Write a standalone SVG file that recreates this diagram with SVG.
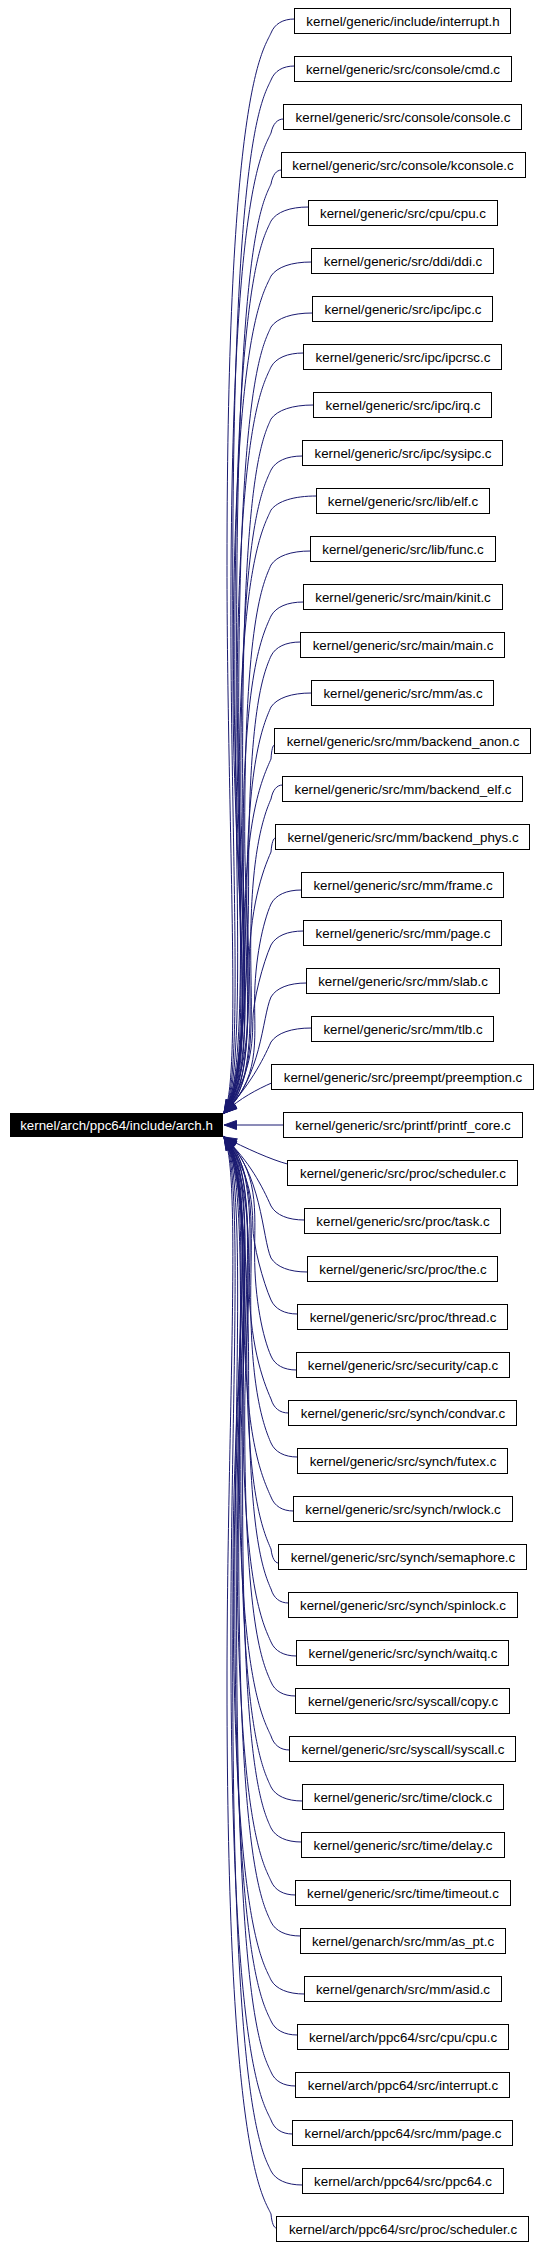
<svg xmlns="http://www.w3.org/2000/svg" width="540" height="2247" viewBox="0 0 540 2247">
<style>
.n rect{fill:#fff;stroke:#000;stroke-width:1}
.n text,.m text{font-family:"Liberation Sans",Arial,Helvetica,sans-serif;font-size:13.33px;text-anchor:middle;fill:#000}
.m rect{fill:#000;stroke:#000}
.m text{fill:#fff}
.e path{fill:none;stroke:#191970;stroke-width:1;marker-end:url(#arr)}
</style>
<defs>
<marker id="arr" markerUnits="userSpaceOnUse" markerWidth="15" markerHeight="11" refX="13.5" refY="5.5" orient="auto" viewBox="0 0 15 11">
<path d="M1,1 L13.5,5.5 L1,10 z" fill="#191970" stroke="#191970" stroke-width="1"/>
</marker>
</defs>
<rect width="540" height="2247" fill="#fff"/>
<g id="connectors" class="e">
<path d="M294.5,19 C282.8,19 274.5,24 271,33 C263,51 227,89 227,565.5 C227,822.8 242,1080 224,1113"/>
<path d="M294.5,66 C282.8,66 274.5,71 271,80 C263,98 232.7,136 232.7,589 C232.7,834.5 256,1080 224,1113"/>
<path d="M283.5,119 C277.3,119 272.9,124 271,133 C263,151 230.9,189 230.9,615.5 C230.9,847.8 244,1080 224,1113"/>
<path d="M281.5,170 C276.3,170 272.6,175 271,184 C263,202 236.6,240 236.6,641 C236.6,860.5 258,1080 224,1113"/>
<path d="M308.5,207 C289.8,207 276.6,212 271,221 C263,239 234.8,277 234.8,659.5 C234.8,869.8 246,1080 224,1113"/>
<path d="M311.5,262 C291.3,262 277.1,267 271,276 C263,294 233,332 233,687 C233,883.5 260,1080 224,1113"/>
<path d="M312.5,313 C291.8,313 277.2,318 271,327 C263,345 238.7,383 238.7,712.5 C238.7,896.3 248,1080 224,1113"/>
<path d="M303.5,353 C287.3,353 275.9,358 271,367 C263,385 236.9,423 236.9,732.5 C236.9,906.3 262,1080 224,1113"/>
<path d="M313.5,405 C292.3,405 277.4,410 271,419 C263,437 242.6,475 242.6,758.5 C242.6,919.3 250,1080 224,1113"/>
<path d="M302.5,456 C286.8,456 275.7,461 271,470 C263,488 240.8,526 240.8,784 C240.8,932 264,1080 224,1113"/>
<path d="M316.5,496 C293.8,496 277.8,501 271,510 C263,528 239,566 239,804 C239,942 252,1080 224,1113"/>
<path d="M310.5,551 C290.8,551 276.9,556 271,565 C263,583 244.7,621 244.7,831.5 C244.7,955.8 266,1080 224,1113"/>
<path d="M303.5,602 C287.3,602 275.9,607 271,616 C263,634 242.9,672 242.9,857 C242.9,968.5 254,1080 224,1113"/>
<path d="M300.5,642 C285.8,642 275.4,647 271,656 C263,674 248.6,712 248.6,877 C248.6,978.5 242,1080 224,1113"/>
<path d="M311.5,693 C291.3,693 277.1,698 271,707 C263,725 246.8,763 246.8,902.5 C246.8,991.3 256,1080 224,1113"/>
<path d="M274.5,745 C272.8,745 271.5,750 271,759 C263,777 245,815 245,928.5 C245,1004.3 244,1080 224,1113"/>
<path d="M282.5,785 C276.8,785 272.7,790 271,799 C263,817 250.7,855 250.7,948.5 C250.7,1014.3 258,1080 224,1113"/>
<path d="M275.5,838 C273.3,838 271.7,843 271,852 C263,870 248.9,908 248.9,975 C248.9,1027.5 246,1080 224,1113"/>
<path d="M301.5,890 C286.3,890 275.6,895 271,904 C263,922 254.6,960 254.6,1001 C254.6,1040.5 260,1080 224,1113"/>
<path d="M303.5,931 C287.3,931 275.9,936 271,945 C263,963 252.8,1001 252.8,1021.5 C252.8,1050.8 248,1080 224,1113"/>
<path d="M306.5,983 C288.8,983 276.3,988 271,997 C262,1017 262,1078 224,1113"/>
<path d="M311.5,1028 C291.3,1028 277.1,1033 271,1042 C262,1062 250,1085 224,1113"/>
<path d="M271.5,1083 C258,1089 240,1098 224,1113"/>
<path d="M283.5,1125 L224,1125"/>
<path d="M287.5,1164 C272,1160 245,1148 224,1137"/>
<path d="M304.5,1220 C287.8,1220 276,1215 271,1206 C262,1186 250,1162 224,1137"/>
<path d="M307.5,1272 C289.3,1272 276.5,1267 271,1258 C262,1238 262,1171 224,1137"/>
<path d="M297.5,1314 C284.3,1314 275,1309 271,1300 C263,1282 252.8,1244 252.8,1226 C252.8,1198 248,1170 224,1137"/>
<path d="M296.5,1370 C283.8,1370 274.8,1365 271,1356 C263,1338 254.6,1300 254.6,1254 C254.6,1212 260,1170 224,1137"/>
<path d="M288.5,1413 C279.8,1413 273.6,1408 271,1399 C263,1381 248.9,1343 248.9,1275.5 C248.9,1222.8 246,1170 224,1137"/>
<path d="M297.5,1457 C284.3,1457 275,1452 271,1443 C263,1425 250.7,1387 250.7,1297.5 C250.7,1233.8 258,1170 224,1137"/>
<path d="M293.5,1511 C282.3,1511 274.4,1506 271,1497 C263,1479 245,1441 245,1324.5 C245,1247.3 244,1170 224,1137"/>
<path d="M278.5,1563 C274.8,1563 272.1,1558 271,1549 C263,1531 246.8,1493 246.8,1350.5 C246.8,1260.3 256,1170 224,1137"/>
<path d="M288.5,1603 C279.8,1603 273.6,1598 271,1589 C263,1571 248.6,1533 248.6,1370.5 C248.6,1270.3 242,1170 224,1137"/>
<path d="M296.5,1656 C283.8,1656 274.8,1651 271,1642 C263,1624 242.9,1586 242.9,1397 C242.9,1283.5 254,1170 224,1137"/>
<path d="M295.5,1696 C283.3,1696 274.7,1691 271,1682 C263,1664 244.7,1626 244.7,1417 C244.7,1293.5 266,1170 224,1137"/>
<path d="M289.5,1750 C280.3,1750 273.8,1745 271,1736 C263,1718 239,1680 239,1444 C239,1307 252,1170 224,1137"/>
<path d="M302.5,1801 C286.8,1801 275.7,1796 271,1787 C263,1769 240.8,1731 240.8,1469.5 C240.8,1319.8 264,1170 224,1137"/>
<path d="M301.5,1842 C286.3,1842 275.6,1837 271,1828 C263,1810 242.6,1772 242.6,1490 C242.6,1330 250,1170 224,1137"/>
<path d="M295.5,1895 C283.3,1895 274.7,1890 271,1881 C263,1863 236.9,1825 236.9,1516.5 C236.9,1343.3 262,1170 224,1137"/>
<path d="M300.5,1936 C285.8,1936 275.4,1931 271,1922 C263,1904 238.7,1866 238.7,1537 C238.7,1353.5 248,1170 224,1137"/>
<path d="M304.5,1994 C287.8,1994 276,1989 271,1980 C263,1962 233,1924 233,1566 C233,1368 260,1170 224,1137"/>
<path d="M297.5,2035 C284.3,2035 275,2030 271,2021 C263,2003 234.8,1965 234.8,1586.5 C234.8,1378.3 246,1170 224,1137"/>
<path d="M295.5,2086 C283.3,2086 274.7,2081 271,2072 C263,2054 236.6,2016 236.6,1612 C236.6,1391 258,1170 224,1137"/>
<path d="M292.5,2134 C281.8,2134 274.2,2129 271,2120 C263,2102 230.9,2064 230.9,1636 C230.9,1403 244,1170 224,1137"/>
<path d="M302.5,2185 C286.8,2185 275.7,2180 271,2171 C263,2153 232.7,2115 232.7,1661.5 C232.7,1415.8 256,1170 224,1137"/>
<path d="M276.5,2228 C273.8,2228 271.8,2223 271,2214 C263,2196 227,2158 227,1683 C227,1426.5 242,1170 224,1137"/>
</g>
<g id="main" class="m"><rect x="10.5" y="1113.5" width="212" height="23"/><text x="116.5" y="1129.7">kernel/arch/ppc64/include/arch.h</text></g>
<g id="n0" class="n"><rect x="294.5" y="8.5" width="216" height="25"/><text x="403" y="25.7">kernel/generic/include/interrupt.h</text></g>
<g id="n1" class="n"><rect x="294.5" y="56.5" width="217" height="25"/><text x="403" y="73.7">kernel/generic/src/console/cmd.c</text></g>
<g id="n2" class="n"><rect x="283.5" y="104.5" width="238" height="25"/><text x="403" y="121.7">kernel/generic/src/console/console.c</text></g>
<g id="n3" class="n"><rect x="281.5" y="152.5" width="244" height="25"/><text x="403" y="169.7">kernel/generic/src/console/kconsole.c</text></g>
<g id="n4" class="n"><rect x="308.5" y="200.5" width="189" height="25"/><text x="403" y="217.7">kernel/generic/src/cpu/cpu.c</text></g>
<g id="n5" class="n"><rect x="311.5" y="248.5" width="182" height="25"/><text x="403" y="265.7">kernel/generic/src/ddi/ddi.c</text></g>
<g id="n6" class="n"><rect x="312.5" y="296.5" width="180" height="25"/><text x="403" y="313.7">kernel/generic/src/ipc/ipc.c</text></g>
<g id="n7" class="n"><rect x="303.5" y="344.5" width="198" height="25"/><text x="403" y="361.7">kernel/generic/src/ipc/ipcrsc.c</text></g>
<g id="n8" class="n"><rect x="313.5" y="392.5" width="178" height="25"/><text x="403" y="409.7">kernel/generic/src/ipc/irq.c</text></g>
<g id="n9" class="n"><rect x="302.5" y="440.5" width="200" height="25"/><text x="403" y="457.7">kernel/generic/src/ipc/sysipc.c</text></g>
<g id="n10" class="n"><rect x="316.5" y="488.5" width="173" height="25"/><text x="403" y="505.7">kernel/generic/src/lib/elf.c</text></g>
<g id="n11" class="n"><rect x="310.5" y="536.5" width="185" height="25"/><text x="403" y="553.7">kernel/generic/src/lib/func.c</text></g>
<g id="n12" class="n"><rect x="303.5" y="584.5" width="199" height="25"/><text x="403" y="601.7">kernel/generic/src/main/kinit.c</text></g>
<g id="n13" class="n"><rect x="300.5" y="632.5" width="204" height="25"/><text x="403" y="649.7">kernel/generic/src/main/main.c</text></g>
<g id="n14" class="n"><rect x="311.5" y="680.5" width="182" height="25"/><text x="403" y="697.7">kernel/generic/src/mm/as.c</text></g>
<g id="n15" class="n"><rect x="274.5" y="728.5" width="256" height="25"/><text x="403" y="745.7">kernel/generic/src/mm/backend_anon.c</text></g>
<g id="n16" class="n"><rect x="282.5" y="776.5" width="240" height="25"/><text x="403" y="793.7">kernel/generic/src/mm/backend_elf.c</text></g>
<g id="n17" class="n"><rect x="275.5" y="824.5" width="254" height="25"/><text x="403" y="841.7">kernel/generic/src/mm/backend_phys.c</text></g>
<g id="n18" class="n"><rect x="301.5" y="872.5" width="202" height="25"/><text x="403" y="889.7">kernel/generic/src/mm/frame.c</text></g>
<g id="n19" class="n"><rect x="303.5" y="920.5" width="198" height="25"/><text x="403" y="937.7">kernel/generic/src/mm/page.c</text></g>
<g id="n20" class="n"><rect x="306.5" y="968.5" width="193" height="25"/><text x="403" y="985.7">kernel/generic/src/mm/slab.c</text></g>
<g id="n21" class="n"><rect x="311.5" y="1016.5" width="182" height="25"/><text x="403" y="1033.7">kernel/generic/src/mm/tlb.c</text></g>
<g id="n22" class="n"><rect x="271.5" y="1064.5" width="262" height="25"/><text x="403" y="1081.7">kernel/generic/src/preempt/preemption.c</text></g>
<g id="n23" class="n"><rect x="283.5" y="1112.5" width="239" height="25"/><text x="403" y="1129.7">kernel/generic/src/printf/printf_core.c</text></g>
<g id="n24" class="n"><rect x="287.5" y="1160.5" width="230" height="25"/><text x="403" y="1177.7">kernel/generic/src/proc/scheduler.c</text></g>
<g id="n25" class="n"><rect x="304.5" y="1208.5" width="196" height="25"/><text x="403" y="1225.7">kernel/generic/src/proc/task.c</text></g>
<g id="n26" class="n"><rect x="307.5" y="1256.5" width="190" height="25"/><text x="403" y="1273.7">kernel/generic/src/proc/the.c</text></g>
<g id="n27" class="n"><rect x="297.5" y="1304.5" width="210" height="25"/><text x="403" y="1321.7">kernel/generic/src/proc/thread.c</text></g>
<g id="n28" class="n"><rect x="296.5" y="1352.5" width="213" height="25"/><text x="403" y="1369.7">kernel/generic/src/security/cap.c</text></g>
<g id="n29" class="n"><rect x="288.5" y="1400.5" width="228" height="25"/><text x="403" y="1417.7">kernel/generic/src/synch/condvar.c</text></g>
<g id="n30" class="n"><rect x="297.5" y="1448.5" width="210" height="25"/><text x="403" y="1465.7">kernel/generic/src/synch/futex.c</text></g>
<g id="n31" class="n"><rect x="293.5" y="1496.5" width="219" height="25"/><text x="403" y="1513.7">kernel/generic/src/synch/rwlock.c</text></g>
<g id="n32" class="n"><rect x="278.5" y="1544.5" width="248" height="25"/><text x="403" y="1561.7">kernel/generic/src/synch/semaphore.c</text></g>
<g id="n33" class="n"><rect x="288.5" y="1592.5" width="229" height="25"/><text x="403" y="1609.7">kernel/generic/src/synch/spinlock.c</text></g>
<g id="n34" class="n"><rect x="296.5" y="1640.5" width="212" height="25"/><text x="403" y="1657.7">kernel/generic/src/synch/waitq.c</text></g>
<g id="n35" class="n"><rect x="295.5" y="1688.5" width="214" height="25"/><text x="403" y="1705.7">kernel/generic/src/syscall/copy.c</text></g>
<g id="n36" class="n"><rect x="289.5" y="1736.5" width="226" height="25"/><text x="403" y="1753.7">kernel/generic/src/syscall/syscall.c</text></g>
<g id="n37" class="n"><rect x="302.5" y="1784.5" width="201" height="25"/><text x="403" y="1801.7">kernel/generic/src/time/clock.c</text></g>
<g id="n38" class="n"><rect x="301.5" y="1832.5" width="203" height="25"/><text x="403" y="1849.7">kernel/generic/src/time/delay.c</text></g>
<g id="n39" class="n"><rect x="295.5" y="1880.5" width="215" height="25"/><text x="403" y="1897.7">kernel/generic/src/time/timeout.c</text></g>
<g id="n40" class="n"><rect x="300.5" y="1928.5" width="205" height="25"/><text x="403" y="1945.7">kernel/genarch/src/mm/as_pt.c</text></g>
<g id="n41" class="n"><rect x="304.5" y="1976.5" width="197" height="25"/><text x="403" y="1993.7">kernel/genarch/src/mm/asid.c</text></g>
<g id="n42" class="n"><rect x="297.5" y="2024.5" width="211" height="25"/><text x="403" y="2041.7">kernel/arch/ppc64/src/cpu/cpu.c</text></g>
<g id="n43" class="n"><rect x="295.5" y="2072.5" width="214" height="25"/><text x="403" y="2089.7">kernel/arch/ppc64/src/interrupt.c</text></g>
<g id="n44" class="n"><rect x="292.5" y="2120.5" width="220" height="25"/><text x="403" y="2137.7">kernel/arch/ppc64/src/mm/page.c</text></g>
<g id="n45" class="n"><rect x="302.5" y="2168.5" width="201" height="25"/><text x="403" y="2185.7">kernel/arch/ppc64/src/ppc64.c</text></g>
<g id="n46" class="n"><rect x="276.5" y="2216.5" width="252" height="25"/><text x="403" y="2233.7">kernel/arch/ppc64/src/proc/scheduler.c</text></g>
</svg>
